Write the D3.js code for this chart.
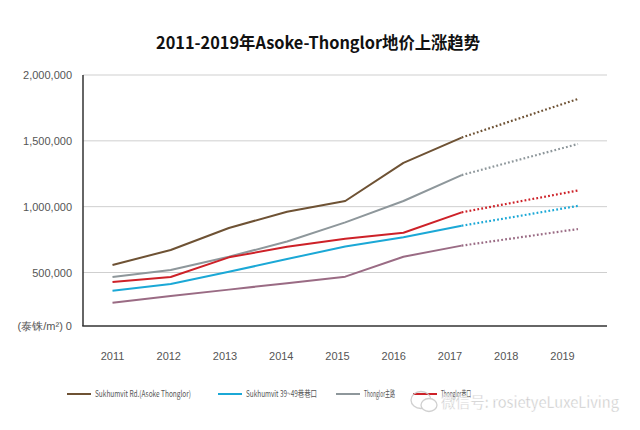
<!DOCTYPE html>
<html><head><meta charset="utf-8">
<script src="https://cdn.jsdelivr.net/npm/d3@7/dist/d3.min.js"></script>
<style>
body{margin:0;background:#fff;}
svg{display:block;font-family:"Noto Sans CJK SC","Noto Sans",sans-serif;}
</style></head>
<body><svg id="c" width="640" height="430"></svg>
<script>
const years = ["2011","2012","2013","2014","2015","2016","2017","2018","2019"];
const yTicks = [0, 500000, 1000000, 1500000, 2000000];
const yTickLabels = ["(泰铢/m²) 0","500,000","1,000,000","1,500,000","2,000,000"];
const seriesNames = ["Sukhumvit Rd.(Asoke Thonglor)","Sukhumvit 39~49巷巷口","Thonglor主路","Thonglor巷口"];
const sukhumvitRd = [557000, 671000, 838000, 962000, 1043000, 1332000, 1525000, 1672000, 1818000];
const thonglorMain = [458000, 519000, 620000, 735000, 881000, 1043000, 1240000, 1358000, 1476000];
const thonglorSoi  = [411000, 458000, 615000, 695000, 756000, 802000, 957000, 1040000, 1123000];
const sukhumvit3949 = [330000, 393000, 505000, 602000, 698000, 767000, 855000, 930000, 1006000];
const otherSoi = [218000, 280000, 340000, 400000, 461000, 620000, 704000, 767000, 830000];
const colors = ["#6e5234","#1ba8d6","#8e979b","#cd2128","#9a6b84"];
const forecastFrom = "2017";

const svg = d3.select("#c");
const x = d3.scalePoint().domain(years).range([112.5, 578]);
const xLab = d3.scalePoint().domain(years).range([112, 562]);
const y = d3.scaleLinear().domain([0, 500000, 2000000]).range([326, 272.5, 75]);

// title
svg.append("text").attr("x", 318).attr("y", 49).attr("text-anchor","middle")
  .attr("font-size", 16.5).attr("font-weight","bold").attr("fill","#111")
  .attr("textLength", 324).attr("lengthAdjust","spacingAndGlyphs")
  .text("2011-2019年Asoke-Thonglor地价上涨趋势");

// gridlines
svg.append("g").selectAll("line").data(yTicks.filter(d=>d>0)).join("line")
  .attr("x1", 83).attr("x2", 607).attr("y1", d=>y(d)).attr("y2", d=>y(d))
  .attr("stroke","#cfcfcf").attr("stroke-width",1);

// y axis labels
const yAxis = d3.axisLeft(y).tickValues(yTicks).tickSize(0).tickPadding(11)
  .tickFormat((d,i)=>yTickLabels[i]);
const gy = svg.append("g").attr("transform","translate(83,0)").call(yAxis);
gy.select(".domain").remove();
gy.selectAll("text").attr("font-size",11).attr("fill","#555")
  .attr("font-family","'Liberation Sans',Arial,sans-serif");

// axis lines
svg.append("line").attr("x1",83).attr("x2",83).attr("y1",y(2000000)).attr("y2",y(0))
  .attr("stroke","#333").attr("stroke-width",1.5);
svg.append("line").attr("x1",82.25).attr("x2",607).attr("y1",y(0)).attr("y2",y(0))
  .attr("stroke","#333").attr("stroke-width",1.5);

// x axis labels
const xAxis = d3.axisBottom(xLab).tickSize(0).tickPadding(0);
const gx = svg.append("g").attr("transform","translate(0,352)").call(xAxis);
gx.select(".domain").remove();
gx.selectAll("text").attr("font-size",11).attr("fill","#555")
  .attr("font-family","'Liberation Sans',Arial,sans-serif");

// lines
const allSeries = [sukhumvitRd, thonglorMain, thonglorSoi, sukhumvit3949, otherSoi];
const seriesColors = [colors[0], colors[2], colors[3], colors[1], colors[4]];
const line = d3.line().x(d=>x(d.year)).y(d=>y(d.v));
const fIdx = years.indexOf(forecastFrom);
allSeries.forEach((vals, si) => {
  const pts = vals.map((v,i)=>({year:years[i], v}));
  svg.append("path").datum(pts.slice(fIdx)).attr("d", line)
    .attr("fill","none").attr("stroke", seriesColors[si]).attr("stroke-width",2.2)
    .attr("stroke-dasharray","1.8 2.2");
  svg.append("path").datum(pts.slice(0, fIdx+1)).attr("d", line)
    .attr("fill","none").attr("stroke", seriesColors[si]).attr("stroke-width",2)
    .attr("stroke-linejoin","round");
});

// legend
const legendItems = [
  {name: seriesNames[0], color: colors[0], x: 67, w: 96},
  {name: seriesNames[1], color: colors[1], x: 218, w: 71},
  {name: seriesNames[2], color: colors[2], x: 336, w: 31},
  {name: seriesNames[3], color: colors[3], x: 413, w: 30}
];
const lg = svg.append("g").selectAll("g").data(legendItems).join("g")
  .attr("transform", d=>`translate(${d.x},394)`);
lg.append("line").attr("x1",0).attr("x2",24).attr("stroke",d=>d.color).attr("stroke-width",2);
lg.append("text").attr("x",28).attr("y",3.2).attr("font-size",9).attr("fill","#555")
  .attr("textLength", d=>d.w).attr("lengthAdjust","spacingAndGlyphs")
  .text(d=>d.name);

// watermark
const wm = svg.append("g").attr("opacity",0.85);
wm.append("ellipse").attr("cx",421).attr("cy",400).attr("rx",10).attr("ry",8.5)
  .attr("fill","none").attr("stroke","#c8c8c8").attr("stroke-width",1.3);
wm.append("ellipse").attr("cx",429).attr("cy",405).attr("rx",8).attr("ry",6.5)
  .attr("fill","#fff").attr("stroke","#c8c8c8").attr("stroke-width",1.3);
wm.append("text").attr("x",441).attr("y",408).attr("font-size",15.5).attr("fill","#bdbdbd")
  .attr("stroke","#fff").attr("stroke-width",0.4)
  .attr("textLength", 178).attr("lengthAdjust","spacingAndGlyphs")
  .text("微信号: rosietyeLuxeLiving");
</script></body></html>
